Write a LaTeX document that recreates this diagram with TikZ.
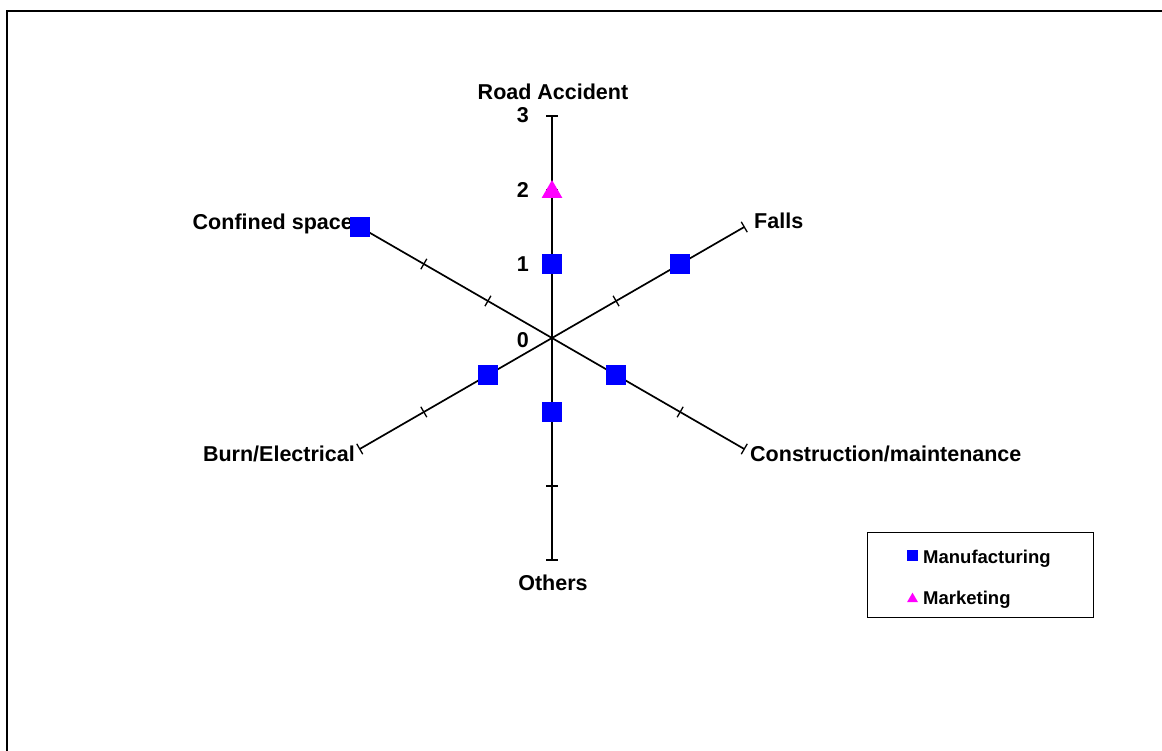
\documentclass[tikz,border=0pt]{standalone}
\usepackage{fontspec}
\setmainfont{Liberation Sans}
\usetikzlibrary{calc,shapes.geometric}
\definecolor{mkmag}{RGB}{255,0,255}
\definecolor{mfblue}{RGB}{0,0,255}
\begin{document}
\begin{tikzpicture}[x=1pt,y=-1pt,
  axisline/.style={line width=1.7pt,black},
  tickmark/.style={line width=1.3pt,black},
  frameline/.style={line width=2.2pt,black},
  msq/.style={rectangle,fill=mfblue,minimum size=20pt,inner sep=0pt},
  mtri/.style={regular polygon,regular polygon sides=3,fill=mkmag,minimum size=24pt,inner sep=0pt},
  lsq/.style={rectangle,fill=mfblue,minimum size=11pt,inner sep=0pt},
  ltri/.style={regular polygon,regular polygon sides=3,fill=mkmag,minimum size=12.7pt,inner sep=0pt},
  axlab/.style={inner sep=0pt,font=\fontsize{21.5}{25}\selectfont\bfseries},
  leglab/.style={inner sep=0pt,font=\fontsize{18.5}{22}\selectfont\bfseries},
  legbox/.style={draw,line width=1.4pt}]
\useasboundingbox (0,0) rectangle (1162,751);
\clip (0,0) rectangle (1162,751);
\fill[white] (0,0) rectangle (1162,751);
% frame (runs off the right and bottom edges)
\draw[frameline] (7,770) -- (7,11) -- (1180,11);
% centre
\coordinate (C) at (552,338);
% axes: name / angle (y grows downward)
\foreach \nm/\a in {road/-90,falls/-30,constr/30,others/90,burn/150,conf/210}{
  \coordinate (\nm-end) at ($(C)+(\a:222)$);
  \draw[axisline] (C) -- (\nm-end);
  \foreach \k in {1,2,3}{
    \draw[tickmark] ($(C)+(\a:\k*74)+(\a+90:6)$) -- ($(C)+(\a:\k*74)+(\a-90:6)$);
  }
}
% axis labels
\node[axlab,anchor=base] (lroad) at (553,100) {Road Accident};
\node[axlab,anchor=base] (lothers) at (553,590) {Others};
\node[axlab,anchor=base west] (lfalls) at (754,229) {Falls};
\node[axlab,anchor=base west] (lconstr) at (750,461.5) {Construction/maintenance};
\node[axlab,anchor=base east] (lburn) at (355,461.5) {Burn/Electrical};
\node[axlab,anchor=base east] (lconf) at (353,230) {Confined space};
% scale numbers
\node[axlab,anchor=base east] (n3) at (529,123) {3};
\node[axlab,anchor=base east] (n2) at (529,198) {2};
\node[axlab,anchor=base east] (n1) at (529,272) {1};
\node[axlab,anchor=base east] (n0) at (529,347) {0};
% data: Manufacturing
\node[msq] (m-road) at ($(C)+(-90:74)$) {};
\node[msq] (m-falls) at ($(C)+(-30:148)$) {};
\node[msq] (m-constr) at ($(C)+(30:74)$) {};
\node[msq] (m-others) at ($(C)+(90:74)$) {};
\node[msq] (m-burn) at ($(C)+(150:74)$) {};
\node[msq] (m-conf) at ($(C)+(210:222)$) {};
% data: Marketing
\node[mtri] (k-road) at ($(C)+(-90:148)+(0,2)$) {};
% legend
\node[legbox,minimum width=226pt,minimum height=85pt,anchor=north west] (legend) at (867,532) {};
\node[lsq] (leg-sq) at (912.5,555) {};
\node[leglab,anchor=base west] (leg-man) at (923,563) {Manufacturing};
\node[ltri] (leg-tri) at (912.5,599) {};
\node[leglab,anchor=base west] (leg-mar) at (923,604) {Marketing};
\end{tikzpicture}
\end{document}
